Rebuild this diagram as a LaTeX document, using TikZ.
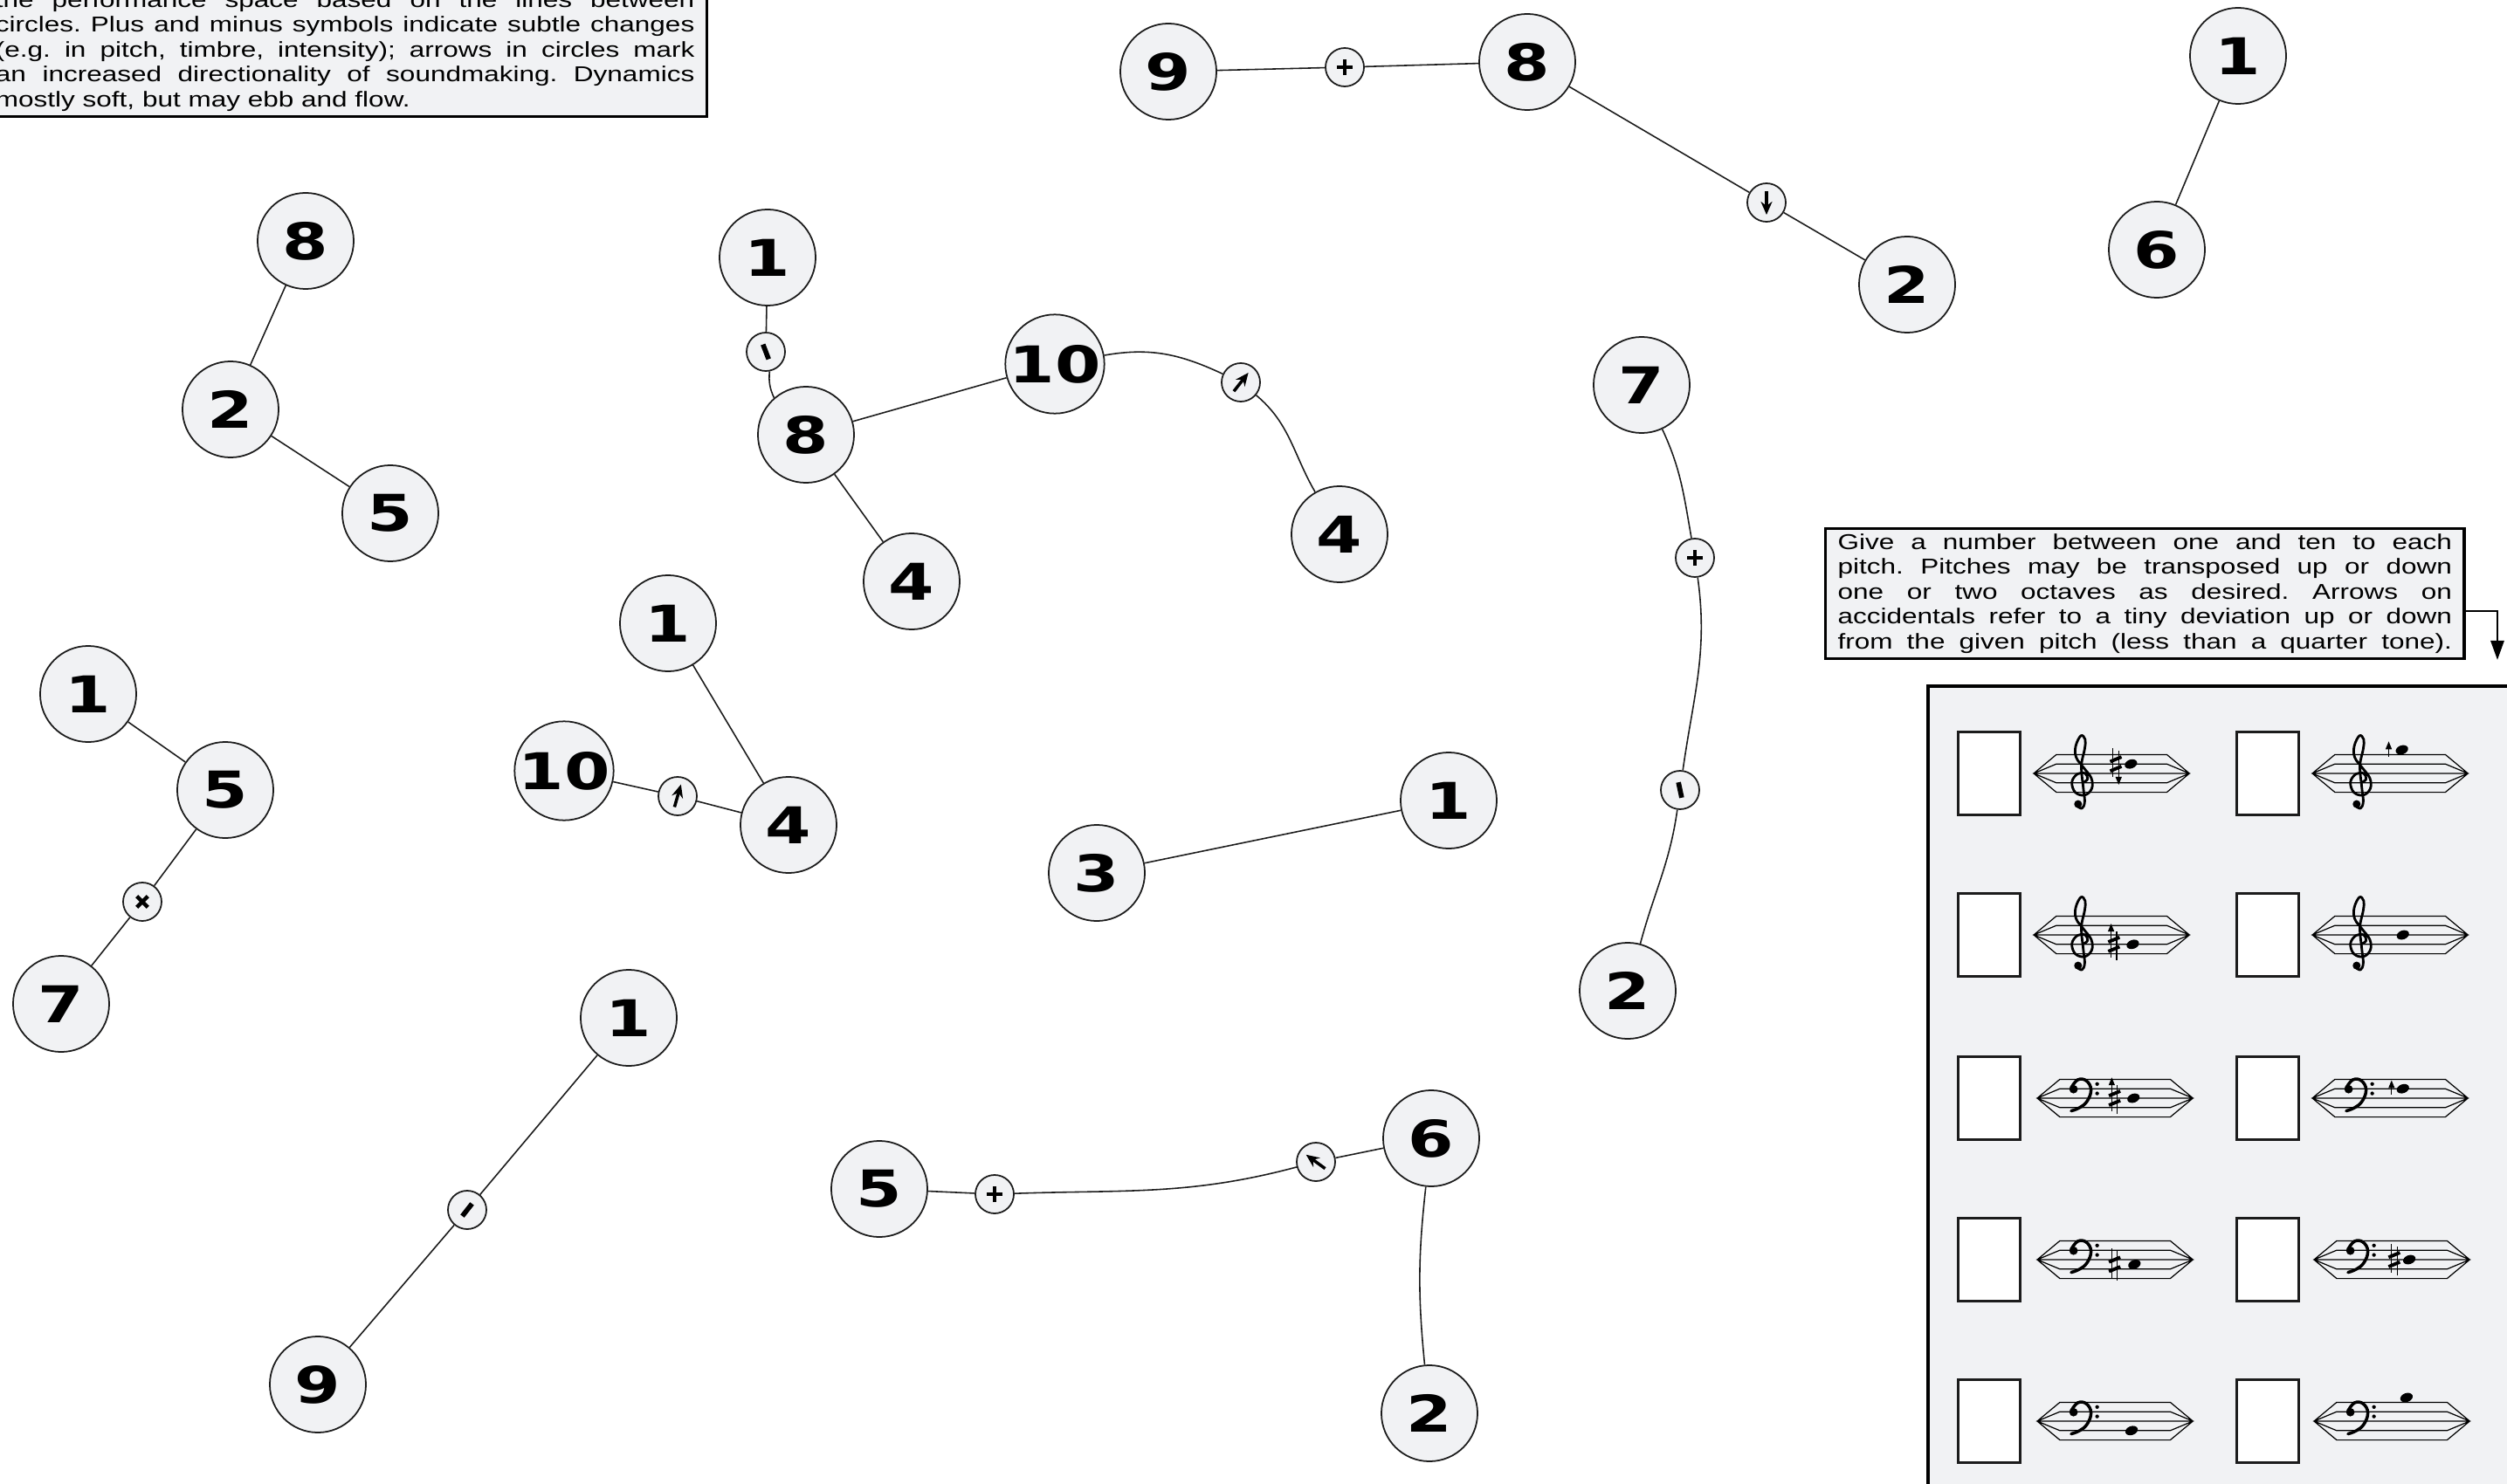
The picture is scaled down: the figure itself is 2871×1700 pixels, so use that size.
\documentclass[tikz,border=0pt]{standalone}
\usepackage{fontspec}
\setmainfont{Liberation Sans}[FakeStretch=1.28]
\newfontfamily\numfont{DejaVu Sans}[FakeStretch=1.3]
\usetikzlibrary{arrows.meta}
\definecolor{inkdark}{HTML}{1C1C1C}
\definecolor{discfill}{HTML}{F1F2F4}
\definecolor{panelgray}{HTML}{F1F2F4}
\frenchspacing

\begin{document}
\begin{tikzpicture}[
    x=0.01cm, y=-0.01cm,
    disc/.style={circle, draw=inkdark, fill=discfill, line width=0.5pt,
                 minimum size=1.1cm, inner sep=0pt,
                 font=\numfont\bfseries\fontsize{16.5}{18}\selectfont},
    minidisc/.style={circle, draw=inkdark, fill=discfill, line width=0.5pt,
                 minimum size=0.44cm, inner sep=0pt},
    link/.style={line width=0.45pt, draw=inkdark},
    sym/.style={line width=1.3pt, draw=black},
    infobox/.style={draw=black, line width=0.9pt, fill=panelgray,
                    inner xsep=1.4mm, inner ysep=0.6mm, align=justify,
                    font=\fontsize{7}{8.1}\selectfont},
    panel/.style={draw=black, line width=1.1pt, fill=panelgray},
    slot/.style={draw=inkdark, line width=1.1pt, fill=white,
                 minimum width=0.71cm, minimum height=0.95cm, inner sep=0pt},
    pointer/.style={line width=0.8pt, -{Triangle[length=2.2mm,width=1.5mm]}},
    accarr/.style={line width=0.35pt, -{Triangle[length=0.9mm,width=0.7mm]}},
    staffat/.style={shift={#1}, x=0.108cm, y=0.108cm},
    plussym/.pic={\draw[sym] (-0.09cm,0) -- (0.09cm,0) (0,-0.09cm) -- (0,0.09cm);},
    minsym/.pic={\draw[line width=1.6pt] (-0.09cm,0) -- (0.09cm,0);},
    arrsym/.pic={\draw[line width=1pt, -{Stealth[length=1.5mm,width=1.3mm]}] (-0.13cm,0) -- (0.14cm,0);},
    stave/.pic={
      \draw[line width=0.35pt] (0,0) -- (2.4,2) -- (14.1,2) -- (16.5,0) -- (14.1,-2) -- (2.4,-2) -- cycle
          (0,0) -- (2.4,1) -- (14.1,1) -- (16.5,0) -- (14.1,-1) -- (2.4,-1) -- cycle
          (0,0) -- (16.5,0);},
    gclef/.pic={
      \draw[line width=0.8pt, line cap=round, line join=round] plot[smooth, tension=0.65] coordinates
          {(0.25,-0.95) (0.7,-0.6) (0.45,0.0) (-0.35,-0.05) (-0.95,-0.9) (-0.6,-2.0) (0.4,-2.3)
           (1.15,-1.6) (1.1,-0.5) (0.3,0.6) (-0.5,1.7) (-0.55,2.9) (0.0,4.0) (0.45,3.6) (0.4,2.6)
           (0.05,0.8) (0.25,-1.5) (0.4,-3.0) (0.1,-3.7) (-0.45,-3.4)};
      \fill (-0.3,-3.25) circle (0.42);},
    fclef/.pic={
      \fill (-0.85,0.95) circle (0.45);
      \draw[line width=1pt, line cap=round] plot[smooth, tension=0.7] coordinates
          {(-1.1,1.1) (-0.4,1.95) (0.5,1.85) (1.0,0.9) (0.6,-0.3) (-0.2,-1.0) (-1.1,-1.35)};
      \fill (1.65,1.5) circle (0.2) (1.65,0.5) circle (0.2);},
    sharpsign/.pic={
      \draw[line width=0.35pt] (-0.3,-1.4) -- (-0.3,1.7) (0.3,-1.7) -- (0.3,1.4);
      \draw[line width=1.1pt] (-0.6,0.25) -- (0.6,0.75) (-0.6,-0.75) -- (0.6,-0.25);},
    notehead/.pic={\fill[rotate=20] (0,0) ellipse (0.68 and 0.47);},
  ]
  \useasboundingbox (0,0) rectangle (2871,1700);
  \clip (0,0) rectangle (2871,1700);

  % text boxes
  \node[infobox, text width=8cm, anchor=south east] (legend) at (811,135)
    {the performance space based on the lines between\linebreak
     circles. Plus and minus symbols indicate subtle changes\linebreak
     (e.g. in pitch, timbre, intensity); arrows in circles mark\linebreak
     an increased directionality of soundmaking. Dynamics\linebreak
     mostly soft, but may ebb and flow.};
  \node[infobox, text width=7.03cm, anchor=north west] (info) at (2089,604)
    {Give a number between one and ten to each\linebreak
     pitch. Pitches may be transposed up or down\linebreak
     one or two octaves as desired. Arrows on\linebreak
     accidentals refer to a tiny deviation up or down\linebreak
     from the given pitch (less than a quarter tone).\parfillskip=0pt\par};
  \coordinate (drop) at (2860,756);
  \draw[pointer] ([yshift=-0.2cm]info.east) -| (drop);

  % circles
  \node[disc] (nA9) at (1338,82) {9};
  \node[minidisc] (mA1) at (1540,77) {};
  \node[disc] (nA8) at (1749,71) {8};
  \node[minidisc] (mA2) at (2023,232) {};
  \node[disc] (nA2) at (2184,326) {2};
  \node[disc] (nB1) at (2563,64) {1};
  \node[disc] (nB6) at (2470,286) {6};
  \node[disc] (nC8) at (350,276) {8};
  \node[disc] (nC2) at (264,469) {2};
  \node[disc] (nC5) at (447,588) {5};
  \node[disc] (nD1) at (879,295) {1};
  \node[minidisc] (mD1) at (877,403) {};
  \node[disc] (nD8) at (923,498) {8};
  \node[disc] (nD10) at (1208,417) {10};
  \node[minidisc] (mD2) at (1421,438) {};
  \node[disc] (nD4a) at (1534,612) {4};
  \node[disc] (nD4b) at (1044,666) {4};
  \node[disc] (nE1) at (765,714) {1};
  \node[disc] (nE10) at (646,883) {10};
  \node[minidisc] (mE1) at (776,912) {};
  \node[disc] (nE4) at (903,945) {4};
  \node[disc] (nF1) at (101,795) {1};
  \node[disc] (nF5) at (258,905) {5};
  \node[minidisc] (mF1) at (163,1033) {};
  \node[disc] (nF7) at (70,1150) {7};
  \node[disc] (nG3) at (1256,1000) {3};
  \node[disc] (nG1) at (1659,917) {1};
  \node[disc] (nH7) at (1880,441) {7};
  \node[minidisc] (mH1) at (1941,639) {};
  \node[minidisc] (mH2) at (1924,905) {};
  \node[disc] (nH2) at (1864,1135) {2};
  \node[disc] (nI1) at (720,1166) {1};
  \node[minidisc] (mI1) at (535,1386) {};
  \node[disc] (nI9) at (364,1586) {9};
  \node[disc] (nJ5) at (1007,1362) {5};
  \node[minidisc] (mJ1) at (1139,1368) {};
  \node[minidisc] (mJ2) at (1507,1331) {};
  \node[disc] (nJ6) at (1639,1304) {6};
  \node[disc] (nJ2) at (1637,1619) {2};

  % lines between circles
  \draw[link] (nA9) -- (mA1) -- (nA8) -- (mA2) -- (nA2);
  \draw[link] (nB1) -- (nB6);
  \draw[link] (nC8) -- (nC2) -- (nC5);
  \draw[link] (nD1) -- (mD1) to[bend right=15] (nD8);
  \draw[link] (nD8) -- (nD10);
  \draw[link] (nD8) -- (nD4b);
  \draw[link] (nD10) to[out=10,in=155] (mD2) to[out=-40,in=120] (nD4a);
  \draw[link] (nE1) -- (nE4);
  \draw[link] (nE10) -- (mE1) -- (nE4);
  \draw[link] (nF1) -- (nF5) -- (mF1) -- (nF7);
  \draw[link] (nG3) -- (nG1);
  \draw[link] (nH7) to[out=-65,in=100] (mH1) to[out=-82,in=82] (mH2) to[out=-98,in=75] (nH2);
  \draw[link] (nI1) -- (mI1) -- (nI9);
  \draw[link] (nJ5) -- (mJ1) to[out=2,in=195] (mJ2) -- (nJ6);
  \draw[link] (nJ6) to[bend right=6] (nJ2);

  % symbols in the small circles
  \pic at (mA1) {plussym};
  \pic[rotate=-90] at (mA2) {arrsym};
  \pic[rotate=-69] at (mD1) {minsym};
  \pic[rotate=52] at (mD2) {arrsym};
  \pic[rotate=74] at (mE1) {arrsym};
  \pic[rotate=45] at (mF1) {plussym};
  \pic at (mH1) {plussym};
  \pic[rotate=-78] at (mH2) {minsym};
  \pic[rotate=52] at (mI1) {minsym};
  \pic at (mJ1) {plussym};
  \pic[rotate=144] at (mJ2) {arrsym};

  % pitch panel
  \node[panel, anchor=north west, minimum width=7cm, minimum height=10cm] (pitches) at (2206,784) {};
  \foreach \row/\yy in {1/886,2/1071,3/1258,4/1443,5/1628}{
    \node[slot] (slotL\row) at (2278,\yy) {};
    \node[slot] (slotR\row) at (2597,\yy) {};
  }

  \begin{scope}[staffat={(2329,886)}]
    \pic {stave}; \pic at (5,0) {gclef};
    \pic at (8.7,1) {sharpsign}; \draw[accarr] (9,0) -- (9,-1.2);
    \pic at (10.3,1) {notehead};
  \end{scope}
  \begin{scope}[staffat={(2648,886)}]
    \pic {stave}; \pic at (5,0) {gclef};
    \draw[accarr] (8.1,1.8) -- (8.1,3.4);
    \pic at (9.5,2.5) {notehead};
  \end{scope}
  \begin{scope}[staffat={(2329,1071)}]
    \pic {stave}; \pic at (5,0) {gclef};
    \pic at (8.5,-1) {sharpsign}; \draw[accarr] (8.2,0) -- (8.2,1.2);
    \pic at (10.5,-1) {notehead};
  \end{scope}
  \begin{scope}[staffat={(2648,1071)}]
    \pic {stave}; \pic at (5,0) {gclef};
    \pic at (9.6,0) {notehead};
  \end{scope}
  \begin{scope}[staffat={(2333,1258)}]
    \pic {stave}; \pic at (4.7,0) {fclef};
    \pic at (8.2,0) {sharpsign}; \draw[accarr] (7.9,1) -- (7.9,2.2);
    \pic at (10.2,0) {notehead};
  \end{scope}
  \begin{scope}[staffat={(2648,1258)}]
    \pic {stave}; \pic at (4.7,0) {fclef};
    \draw[accarr] (8.4,0.4) -- (8.4,1.9);
    \pic at (9.6,1) {notehead};
  \end{scope}
  \begin{scope}[staffat={(2333,1443)}]
    \pic {stave}; \pic at (4.7,0) {fclef};
    \pic at (8.2,-0.5) {sharpsign};
    \pic at (10.3,-0.5) {notehead};
  \end{scope}
  \begin{scope}[staffat={(2650,1443)}]
    \pic {stave}; \pic at (4.7,0) {fclef};
    \pic at (8.5,0) {sharpsign};
    \pic at (10.1,0) {notehead};
  \end{scope}
  \begin{scope}[staffat={(2333,1628)}]
    \pic {stave}; \pic at (4.7,0) {fclef};
    \pic at (10,-1) {notehead};
  \end{scope}
  \begin{scope}[staffat={(2650,1628)}]
    \pic {stave}; \pic at (4.7,0) {fclef};
    \pic at (9.8,2.5) {notehead};
  \end{scope}
\end{tikzpicture}
\end{document}
